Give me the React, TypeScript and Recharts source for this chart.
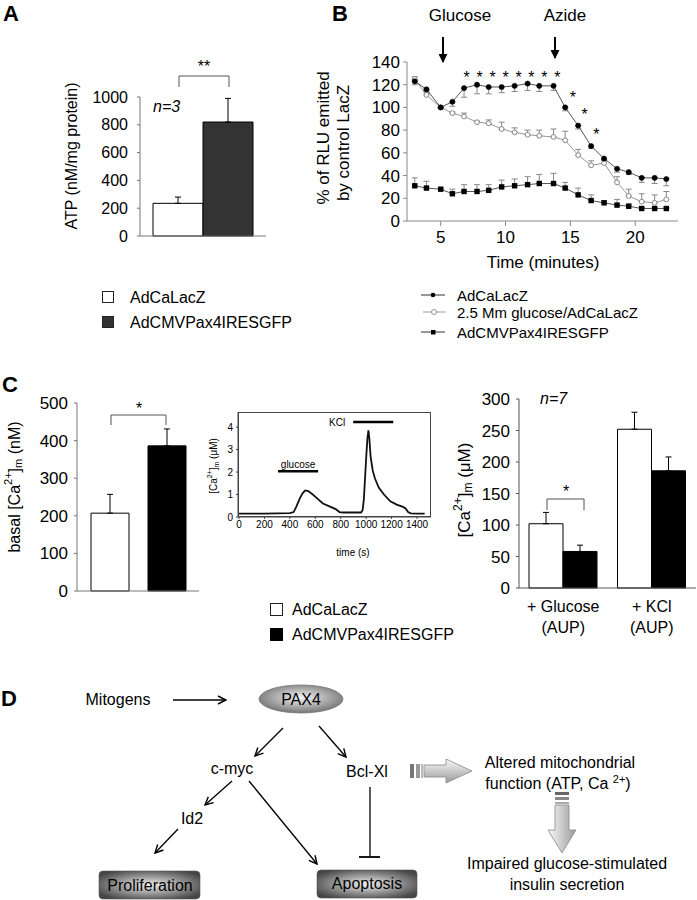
import React from 'react';
import {
  BarChart, Bar, XAxis, YAxis, ErrorBar, ComposedChart, Line, Scatter, LineChart, ReferenceLine,
} from 'recharts';

const FONT = '"Liberation Sans", Arial, Helvetica, sans-serif';

// ---------- Panel A: ATP ----------
const atpGroups = ['ATP'];
const atpLacZ = [235];
const atpLacZErr = [45];
const atpPax4 = [820];
const atpPax4Err = [170];
const atpTicks = [0, 200, 400, 600, 800, 1000];

// ---------- Panel B: RLU time course ----------
const timeMin = [3.0, 3.9, 5.0, 5.9, 6.8, 7.8, 8.7, 9.7, 10.7, 11.7, 12.6, 13.7, 14.6, 15.6, 16.6, 17.6, 18.6, 19.5, 20.5, 21.5, 22.4];
const rluLacZ = [123, 116, 100, 105, 117, 120, 118, 118, 119, 121, 119, 119, 100, 84, 66, 55, 46, 43, 38, 38, 37];
const rluLacZErr = [3, 2, 1, 4, 8, 8, 6, 5, 5, 6, 5, 4, 3, 3, 2, 2, 3, 2, 4, 5, 6];
const rluGlucose = [125, 111, 100, 95, 92, 87, 86, 81, 78, 76, 75, 74, 71, 58, 49, 51, 34, 22, 17, 16, 19];
const rluGlucoseErr = [2, 2, 1, 1, 3, 1, 3, 6, 4, 4, 5, 7, 8, 5, 4, 3, 5, 6, 7, 7, 7];
const rluPax4 = [31, 29, 28, 24, 26, 26, 27, 30, 31, 32, 33, 33, 29, 23, 18, 16, 14, 13, 11, 11, 11];
const rluPax4Err = [7, 6, 1, 4, 6, 6, 5, 6, 6, 7, 8, 9, 5, 6, 5, 2, 5, 2, 1, 1, 1];
const rluTicks = [0, 20, 40, 60, 80, 100, 120, 140];
const timeTicks = [5, 10, 15, 20];
const starTimes = [7.0, 8.0, 9.0, 10.0, 11.0, 12.0, 13.0, 14.0, 15.2, 16.1, 17.0];
const starLevels = [129, 129, 129, 129, 129, 129, 129, 129, 112, 97, 79];

// ---------- Panel C left: basal Ca ----------
const basalGroups = ['basal'];
const basalLacZ = [207];
const basalLacZErr = [50];
const basalPax4 = [386];
const basalPax4Err = [45];
const basalTicks = [0, 100, 200, 300, 400, 500];

// ---------- Panel C middle: trace ----------
const traceTime = [0, 100, 200, 300, 400, 430, 450, 480, 500, 520, 545, 580, 610, 660, 720, 760, 790, 820, 900, 960, 972, 982, 992, 1002, 1010, 1018, 1025, 1035, 1052, 1070, 1100, 1140, 1190, 1240, 1290, 1310, 1330, 1350, 1400, 1460];
const traceCa = [0.15, 0.15, 0.15, 0.16, 0.17, 0.22, 0.45, 0.85, 1.05, 1.18, 1.15, 1.0, 0.85, 0.6, 0.45, 0.35, 0.22, 0.2, 0.2, 0.2, 0.3, 0.8, 1.8, 2.8, 3.5, 3.85, 3.5, 2.7, 2.05, 1.7, 1.3, 1.0, 0.7, 0.55, 0.45, 0.38, 0.22, 0.16, 0.15, 0.15];
const traceXTicks = [0, 200, 400, 600, 800, 1000, 1200, 1400];
const traceYTicks = [0, 1, 2, 3, 4];
const glucoseBar = { start: 307, end: 622, level: 2.04 };
const kclBar = { start: 898, end: 1213, level: 4.22 };

// ---------- Panel C right: AUP ----------
const aupGroups = ['+ Glucose|(AUP)', '+ KCl|(AUP)'];
const aupLacZ = [102, 252];
const aupLacZErr = [18, 27];
const aupPax4 = [58, 186];
const aupPax4Err = [10, 22];
const aupTicks = [0, 50, 100, 150, 200, 250, 300];

// ---------- built tables ----------
const dataA = atpGroups.map((g, i) => ({
  name: g, lacz: atpLacZ[i], laczErr: [0, atpLacZErr[i]], pax4: atpPax4[i], pax4Err: [0, atpPax4Err[i]],
}));
const dataB = timeMin.map((t, i) => ({
  t,
  lacz: rluLacZ[i], laczErr: [rluLacZErr[i], 0],
  glu: rluGlucose[i], gluErr: [0, rluGlucoseErr[i]],
  pax4: rluPax4[i], pax4Err: [0, rluPax4Err[i]],
}));
const starsB = starTimes.map((t, i) => ({ t, y: starLevels[i] }));
const dataCL = basalGroups.map((g, i) => ({
  name: g, lacz: basalLacZ[i], laczErr: [0, basalLacZErr[i]], pax4: basalPax4[i], pax4Err: [0, basalPax4Err[i]],
}));
const dataCM = traceTime.map((t, i) => ({ t, ca: traceCa[i] }));
const dataCR = aupGroups.map((g, i) => ({
  name: g, lacz: aupLacZ[i], laczErr: [0, aupLacZErr[i]], pax4: aupPax4[i], pax4Err: [0, aupPax4Err[i]],
}));

const tickStyle = (size: number) => ({ fontSize: size, fill: '#000', fontFamily: FONT });

const FilledDot = (p: any) => (
  <circle key={`fd${p.index}`} cx={p.cx} cy={p.cy} r={2.6} fill="#000" stroke="#000" strokeWidth={0.5} />
);
const OpenDot = (p: any) => (
  <circle key={`od${p.index}`} cx={p.cx} cy={p.cy} r={2.4} fill="#fff" stroke="#888" strokeWidth={1} />
);
const SquareDot = (p: any) => (
  <rect key={`sd${p.index}`} x={p.cx - 2.7} y={p.cy - 2.7} width={5.4} height={5.4} fill="#000" />
);
const StarShape = (p: any) => (
  <text x={p.cx} y={p.cy + 9} textAnchor="middle" fontSize={16} fontFamily={FONT} fill="#000" stroke="none" style={{ fill: '#000' }}>*</text>
);
const TwoLineTick = (p: any) => {
  const [a, b] = String(p.payload.value).split('|');
  return (
    <text x={p.x} y={p.y} textAnchor="middle" fontSize={16} fontFamily={FONT} fill="#000">
      <tspan x={p.x} dy={18}>{a}</tspan>
      <tspan x={p.x} dy={21}>{b}</tspan>
    </text>
  );
};

const abs = (left: number, top: number): React.CSSProperties => ({ position: 'absolute', left, top });

export default function App() {
  return (
    <div style={{ position: 'relative', width: 697, height: 900, background: '#fff', overflow: 'hidden', fontFamily: FONT }}>
      <style>{'body{margin:0;background:#fff}'}</style>

      {/* Panel A */}
      <div style={abs(0, 0)}>
        <BarChart width={300} height={280} data={dataA} margin={{ top: 97, right: 34, bottom: 24, left: 90 }} barGap={0} barSize={50}>
          <XAxis dataKey="name" tick={false} tickLine={false} height={20} axisLine={{ stroke: '#777' }} />
          <YAxis width={50} domain={[0, 1000]} ticks={atpTicks} interval={0} tick={tickStyle(16)} tickSize={3} tickMargin={9} axisLine={{ stroke: '#777' }} tickLine={{ stroke: '#777' }} />
          <Bar dataKey="lacz" fill="#fff" stroke="#000" strokeWidth={1} isAnimationActive={false}>
            <ErrorBar dataKey="laczErr" width={3} stroke="#000" strokeWidth={1} direction="y" />
          </Bar>
          <Bar dataKey="pax4" fill="#333" stroke="#000" strokeWidth={1} isAnimationActive={false}>
            <ErrorBar dataKey="pax4Err" width={3} stroke="#000" strokeWidth={1} direction="y" />
          </Bar>
        </BarChart>
      </div>

      {/* Panel B */}
      <div style={abs(330, 0)}>
        <ComposedChart width={367} height={280} data={dataB} margin={{ top: 62, right: 19, bottom: 29, left: 32 }}>
          <XAxis type="number" dataKey="t" domain={[2.4, 23.3]} ticks={timeTicks} interval={0} allowDataOverflow height={30} tick={tickStyle(17)} tickSize={5} tickMargin={5} axisLine={{ stroke: '#888' }} tickLine={{ stroke: '#888' }} />
          <YAxis type="number" domain={[0, 140]} ticks={rluTicks} interval={0} width={45} tick={tickStyle(17)} tickSize={4} tickMargin={3} axisLine={{ stroke: '#888' }} tickLine={{ stroke: '#888' }} />
          <Line dataKey="glu" stroke="#999" strokeWidth={1} dot={OpenDot} isAnimationActive={false}>
            <ErrorBar dataKey="gluErr" width={3} stroke="#888" strokeWidth={1} direction="y" />
          </Line>
          <Line dataKey="pax4" stroke="#555" strokeWidth={1} dot={SquareDot} isAnimationActive={false}>
            <ErrorBar dataKey="pax4Err" width={3} stroke="#888" strokeWidth={1} direction="y" />
          </Line>
          <Line dataKey="lacz" stroke="#555" strokeWidth={1} dot={FilledDot} isAnimationActive={false}>
            <ErrorBar dataKey="laczErr" width={3} stroke="#888" strokeWidth={1} direction="y" />
          </Line>
          <Scatter data={starsB} dataKey="y" fill="#000" shape={StarShape} isAnimationActive={false} />
        </ComposedChart>
      </div>

      {/* Panel C left */}
      <div style={abs(0, 360)}>
        <BarChart width={210} height={250} data={dataCL} margin={{ top: 43, right: 11, bottom: 9, left: 27 }} barGap={19} barSize={38}>
          <XAxis dataKey="name" tick={false} tickLine={false} height={10} axisLine={{ stroke: '#777' }} />
          <YAxis width={50} domain={[0, 500]} ticks={basalTicks} interval={0} tick={tickStyle(17)} tickSize={3} tickMargin={6} axisLine={{ stroke: '#777' }} tickLine={{ stroke: '#777' }} />
          <Bar dataKey="lacz" fill="#fff" stroke="#000" strokeWidth={1} isAnimationActive={false}>
            <ErrorBar dataKey="laczErr" width={3} stroke="#000" strokeWidth={1} direction="y" />
          </Bar>
          <Bar dataKey="pax4" fill="#000" stroke="#000" strokeWidth={1} isAnimationActive={false}>
            <ErrorBar dataKey="pax4Err" width={3} stroke="#000" strokeWidth={1} direction="y" />
          </Bar>
        </BarChart>
      </div>

      {/* Panel C middle */}
      <div style={abs(190, 400)}>
        <LineChart width={250} height={160} data={dataCM} margin={{ top: 12, right: 9, bottom: 23, left: 18 }}>
          <XAxis type="number" dataKey="t" domain={[-8, 1510]} ticks={traceXTicks} interval={0} allowDataOverflow height={20} tick={tickStyle(10)} tickSize={2} tickMargin={2} axisLine={{ stroke: '#444' }} tickLine={{ stroke: '#444' }} />
          <YAxis type="number" domain={[0, 4.67]} ticks={traceYTicks} interval={0} allowDataOverflow width={30} tick={tickStyle(10)} tickSize={2} tickMargin={3} axisLine={{ stroke: '#444' }} tickLine={{ stroke: '#444' }} />
          <Line dataKey="ca" stroke="#111" strokeWidth={1.8} dot={false} isAnimationActive={false} />
          <ReferenceLine segment={[{ x: glucoseBar.start, y: glucoseBar.level }, { x: glucoseBar.end, y: glucoseBar.level }]} stroke="#000" strokeWidth={2.5}
            label={{ value: 'glucose', position: 'top', offset: 3, fontSize: 10, fill: '#000', fontFamily: FONT }} />
          <ReferenceLine segment={[{ x: kclBar.start, y: kclBar.level }, { x: kclBar.end, y: kclBar.level }]} stroke="#000" strokeWidth={2.5}
            label={{ value: 'KCl', position: 'left', offset: 8, fontSize: 10, fill: '#000', fontFamily: FONT }} />
        </LineChart>
      </div>

      {/* Panel C right */}
      <div style={abs(440, 360)}>
        <BarChart width={257} height={280} data={dataCR} margin={{ top: 39, right: 1, bottom: 7, left: 29 }} barGap={0} barSize={34}>
          <XAxis dataKey="name" tick={<TwoLineTick />} tickLine={false} tickSize={0} tickMargin={6} height={45} interval={0} axisLine={{ stroke: '#555' }} />
          <YAxis width={50} domain={[0, 300]} ticks={aupTicks} interval={0} tick={tickStyle(17)} tickSize={3} tickMargin={6} axisLine={{ stroke: '#555' }} tickLine={{ stroke: '#555' }} />
          <Bar dataKey="lacz" fill="#fff" stroke="#000" strokeWidth={1} isAnimationActive={false}>
            <ErrorBar dataKey="laczErr" width={3} stroke="#000" strokeWidth={1} direction="y" />
          </Bar>
          <Bar dataKey="pax4" fill="#000" stroke="#000" strokeWidth={1} isAnimationActive={false}>
            <ErrorBar dataKey="pax4Err" width={3} stroke="#000" strokeWidth={1} direction="y" />
          </Bar>
        </BarChart>
      </div>

      {/* Overlay: labels, legends, diagram */}
      <svg width={697} height={900} style={{ position: 'absolute', left: 0, top: 0, pointerEvents: 'none' }} fontFamily={FONT}>
        <defs>
          <marker id="arr" viewBox="0 0 10 10" refX="9" refY="5" markerWidth="10" markerHeight="10" markerUnits="userSpaceOnUse" orient="auto">
            <path d="M1,1 L9,5 L1,9" fill="none" stroke="#000" strokeWidth="1.4" />
          </marker>
          <marker id="fat" viewBox="0 0 10 10" refX="5" refY="9" markerWidth="9" markerHeight="9" markerUnits="userSpaceOnUse" orient="0">
            <path d="M0,0 L10,0 L5,10 Z" fill="#000" />
          </marker>
          <radialGradient id="boxG" cx="50%" cy="50%" r="60%">
            <stop offset="0%" stopColor="#f0f0f0" />
            <stop offset="100%" stopColor="#454545" />
          </radialGradient>
          <radialGradient id="ellG" cx="50%" cy="45%" r="60%">
            <stop offset="0%" stopColor="#f4f4f4" />
            <stop offset="100%" stopColor="#6a6a6a" />
          </radialGradient>
          <linearGradient id="hArrG" x1="0" y1="0" x2="0" y2="1">
            <stop offset="0%" stopColor="#fafafa" />
            <stop offset="100%" stopColor="#9a9a9a" />
          </linearGradient>
          <linearGradient id="vArrG" x1="0" y1="0" x2="1" y2="0">
            <stop offset="0%" stopColor="#fafafa" />
            <stop offset="100%" stopColor="#9a9a9a" />
          </linearGradient>
        </defs>

        {/* Panel letters */}
        <text x={3} y={21} fontSize={22} fontWeight="bold">A</text>
        <text x={332} y={21} fontSize={22} fontWeight="bold">B</text>
        <text x={2} y={392} fontSize={22} fontWeight="bold">C</text>
        <text x={1} y={706} fontSize={22} fontWeight="bold">D</text>

        {/* Panel A annotations */}
        <text transform="translate(71,156) rotate(-90)" textAnchor="middle" dominantBaseline="central" fontSize={16}>ATP (nM/mg protein)</text>
        <text x={153} y={112} fontSize={16} fontStyle="italic">n=3</text>
        <path d="M179,87 V76 H229 V87" fill="none" stroke="#555" strokeWidth={1} />
        <text x={204} y={72} textAnchor="middle" fontSize={16}>**</text>
        <rect x={102.5} y={291.5} width={11} height={11} fill="#fff" stroke="#222" />
        <text x={130} y={303} fontSize={16}>AdCaLacZ</text>
        <rect x={102.5} y={316.5} width={11} height={11} fill="#333" stroke="#222" />
        <text x={130} y={328} fontSize={16}>AdCMVPax4IRESGFP</text>

        {/* Panel B annotations */}
        <text x={460} y={21} textAnchor="middle" fontSize={17}>Glucose</text>
        <text x={565} y={21} textAnchor="middle" fontSize={17}>Azide</text>
        <line x1={443} y1={37} x2={443} y2={62} stroke="#000" strokeWidth={2} markerEnd="url(#fat)" />
        <line x1={555} y1={37} x2={555} y2={58} stroke="#000" strokeWidth={2} markerEnd="url(#fat)" />
        <text transform="translate(323,138) rotate(-90)" textAnchor="middle" dominantBaseline="central" fontSize={17}>% of RLU emitted</text>
        <text transform="translate(343,143) rotate(-90)" textAnchor="middle" dominantBaseline="central" fontSize={17}>by control LacZ</text>
        <text x={543} y={268} textAnchor="middle" fontSize={17}>Time (minutes)</text>
        <line x1={421} y1={295} x2={445} y2={295} stroke="#333" />
        <circle cx={433} cy={295} r={2.3} fill="#000" />
        <text x={457} y={300.5} fontSize={15}>AdCaLacZ</text>
        <line x1={423} y1={312} x2={446} y2={312} stroke="#999" />
        <circle cx={434} cy={312} r={2.5} fill="#fff" stroke="#999" />
        <text x={457} y={317.5} fontSize={15}>2.5 Mm glucose/AdCaLacZ</text>
        <line x1={421} y1={332} x2={445} y2={332} stroke="#333" />
        <rect x={431} y={330} width={4.5} height={4.5} fill="#000" />
        <text x={457} y={337.5} fontSize={15}>AdCMVPax4IRESGFP</text>

        {/* Panel C left annotations */}
        <text transform="translate(14,487) rotate(-90)" textAnchor="middle" dominantBaseline="central" fontSize={16}>
          basal [Ca<tspan dy={-6} fontSize={11}>2+</tspan><tspan dy={6}>]</tspan><tspan dy={4} fontSize={11}>m</tspan><tspan dy={-4}> (nM)</tspan>
        </text>
        <path d="M111,425 V415 H166 V425" fill="none" stroke="#555" strokeWidth={1} />
        <text x={139} y={414} textAnchor="middle" fontSize={16}>*</text>

        {/* Panel C middle annotations */}
        <rect x={238.5} y={412.5} width={192} height={104} fill="none" stroke="#444" strokeWidth={1} />
        <text transform="translate(213,466) rotate(-90)" textAnchor="middle" dominantBaseline="central" fontSize={10}>
          [Ca<tspan dy={-4} fontSize={7}>2+</tspan><tspan dy={4}>]</tspan><tspan dy={3} fontSize={7}>m</tspan><tspan dy={-3}> (μM)</tspan>
        </text>
        <text x={353} y={556} textAnchor="middle" fontSize={10}>time (s)</text>

        {/* Panel C right annotations */}
        <text x={540} y={404} fontSize={16} fontStyle="italic">n=7</text>
        <path d="M547,510 V499 H584 V510" fill="none" stroke="#555" strokeWidth={1} />
        <text x={566} y={497} textAnchor="middle" fontSize={16}>*</text>
        <text transform="translate(464,490) rotate(-90)" textAnchor="middle" dominantBaseline="central" fontSize={17}>
          [Ca<tspan dy={-6} fontSize={12}>2+</tspan><tspan dy={6}>]</tspan><tspan dy={4} fontSize={12}>m</tspan><tspan dy={-4}> (μM)</tspan>
        </text>

        {/* Panel C legend */}
        <rect x={270.5} y={603.5} width={12} height={12} fill="#fff" stroke="#222" />
        <text x={292} y={615} fontSize={16}>AdCaLacZ</text>
        <rect x={270.5} y={628.5} width={12} height={12} fill="#000" stroke="#000" />
        <text x={292} y={640} fontSize={16}>AdCMVPax4IRESGFP</text>

        {/* Panel D diagram */}
        <text x={118} y={705} textAnchor="middle" fontSize={16}>Mitogens</text>
        <line x1={173} y1={700} x2={226} y2={700} stroke="#000" strokeWidth={1.3} markerEnd="url(#arr)" />
        <ellipse cx={301} cy={699} rx={42} ry={14} fill="url(#ellG)" stroke="#777" strokeWidth={0.8} />
        <text x={301} y={705} textAnchor="middle" fontSize={16}>PAX4</text>
        <line x1={283} y1={728} x2={255} y2={756} stroke="#000" strokeWidth={1.3} markerEnd="url(#arr)" />
        <line x1={319} y1={726} x2={346} y2={757} stroke="#000" strokeWidth={1.3} markerEnd="url(#arr)" />
        <text x={232} y={774} textAnchor="middle" fontSize={16}>c-myc</text>
        <text x={367} y={777} textAnchor="middle" fontSize={16}>Bcl-Xl</text>
        <line x1={232} y1={781} x2={205} y2={805} stroke="#000" strokeWidth={1.3} markerEnd="url(#arr)" />
        <line x1={249} y1={781} x2={317} y2={864} stroke="#000" strokeWidth={1.3} markerEnd="url(#arr)" />
        <text x={192} y={824} textAnchor="middle" fontSize={16}>Id2</text>
        <line x1={178} y1={829} x2={155} y2={853} stroke="#000" strokeWidth={1.3} markerEnd="url(#arr)" />
        <line x1={370} y1={787} x2={370} y2={857} stroke="#000" strokeWidth={1.3} />
        <line x1={359} y1={857} x2={380} y2={857} stroke="#000" strokeWidth={1.8} />
        <rect x={99} y={871} width={101} height={28} rx={4} fill="url(#boxG)" stroke="#555" strokeWidth={0.6} />
        <text x={150} y={891} textAnchor="middle" fontSize={16}>Proliferation</text>
        <rect x={317} y={870} width={100} height={28} rx={4} fill="url(#boxG)" stroke="#555" strokeWidth={0.6} />
        <text x={367} y={889} textAnchor="middle" fontSize={16}>Apoptosis</text>

        {/* striped horizontal arrow */}
        <rect x={410} y={764} width={4} height={14} fill="#777" />
        <rect x={416} y={764} width={4} height={14} fill="#999" />
        <rect x={421} y={764} width={2} height={14} fill="#bbb" />
        <path d="M424,765 H446 V759 L472,771 L446,783 V777 H424 Z" fill="url(#hArrG)" stroke="#888" strokeWidth={0.8} />
        <text x={560} y={768} textAnchor="middle" fontSize={16}>Altered mitochondrial</text>
        <text x={558} y={789} textAnchor="middle" fontSize={16}>
          function (ATP, Ca <tspan dy={-6} fontSize={11}>2+</tspan><tspan dy={6}>)</tspan>
        </text>

        {/* striped vertical arrow */}
        <rect x={555} y={792} width={14} height={3} fill="#666" />
        <rect x={555} y={797} width={14} height={3} fill="#888" />
        <rect x={555} y={802} width={14} height={2} fill="#aaa" />
        <path d="M555,805 H569 V830 H576 L562,853 L548,830 H555 Z" fill="url(#vArrG)" stroke="#888" strokeWidth={0.8} />
        <text x={567} y={869} textAnchor="middle" fontSize={16}>Impaired glucose-stimulated</text>
        <text x={567} y={890} textAnchor="middle" fontSize={16}>insulin secretion</text>
      </svg>
    </div>
  );
}
